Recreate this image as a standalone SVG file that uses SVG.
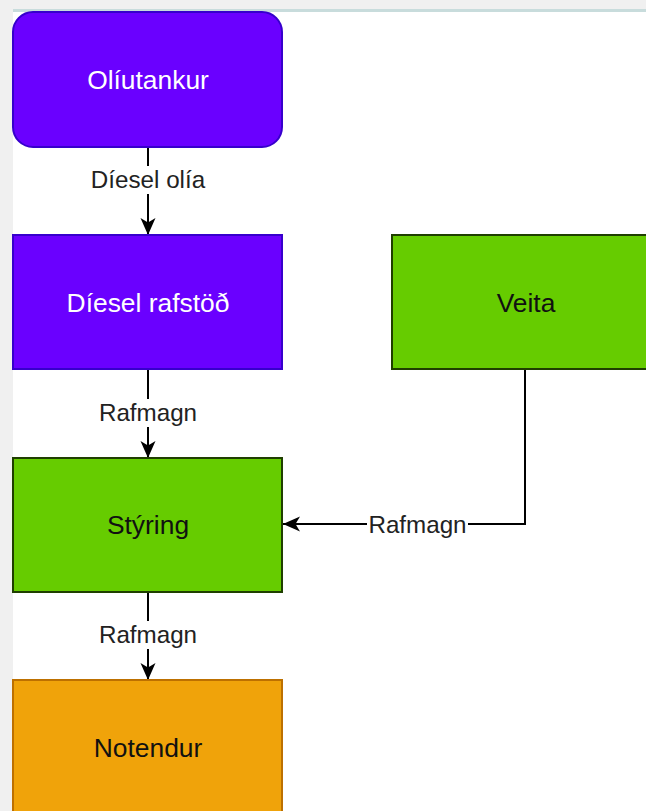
<svg xmlns="http://www.w3.org/2000/svg" width="646" height="811" viewBox="0 0 646 811">
<style>
.purple{fill:#6a00ff;stroke:#3700cc;stroke-width:2}
.green{fill:#66cc00;stroke:#1f3f00;stroke-width:2}
.orange{fill:#f0a30a;stroke:#bd7000;stroke-width:2}
.nt{font-family:"Liberation Sans",Arial,sans-serif;font-size:26.4px;text-anchor:middle}
.w{fill:#ffffff}
.d{fill:#111111}
.edge{fill:none;stroke:#000;stroke-width:2;marker-end:url(#arr)}
.lbl{font-family:"Liberation Sans",Arial,sans-serif;font-size:24.2px;text-anchor:middle;fill:#222}
.lbg{fill:#ffffff}
</style>
<defs>
<marker id="arr" markerUnits="userSpaceOnUse" markerWidth="18" markerHeight="18" viewBox="0 0 18 18" refX="17" refY="9" orient="auto">
<path d="M0,1.5 L17,9 L0,16.5 L4.5,9 Z" fill="#000"/>
</marker>
</defs>
<rect x="0" y="0" width="646" height="811" fill="#ffffff"/>
<rect x="0" y="0" width="646" height="9" fill="#f0f0f0"/>
<rect x="0" y="0" width="13" height="811" fill="#f0f0f0"/>
<rect x="13" y="9" width="633" height="3" fill="#c8dcdc"/>
<g id="connectors">
<path class="edge" d="M148,147 L148,235"/>
<path class="edge" d="M148,369 L148,458"/>
<path class="edge" d="M525,369 L525,524 L283,524"/>
<path class="edge" d="M148,592 L148,680"/>
<rect class="lbg" x="88" y="166" width="120" height="28"/>
<text class="lbl" x="148" y="188">Díesel olía</text>
<rect class="lbg" x="97" y="399" width="102" height="28"/>
<text class="lbl" x="148" y="421">Rafmagn</text>
<rect class="lbg" x="367" y="512" width="101" height="26"/>
<text class="lbl" x="417.5" y="533">Rafmagn</text>
<rect class="lbg" x="97" y="621" width="102" height="28"/>
<text class="lbl" x="148" y="643">Rafmagn</text>
</g>
<g id="oliutankur">
<rect class="purple" x="13" y="12" width="269" height="135" rx="20" ry="20"/>
<text class="nt w" x="148" y="89">Olíutankur</text>
</g>
<g id="diesel">
<rect class="purple" x="13" y="235" width="269" height="134"/>
<text class="nt w" x="148" y="311.5">Díesel rafstöð</text>
</g>
<g id="veita">
<rect class="green" x="392" y="235" width="269" height="134"/>
<text class="nt d" x="526" y="311.5">Veita</text>
</g>
<g id="styring">
<rect class="green" x="13" y="458" width="269" height="134"/>
<text class="nt d" x="148" y="534">Stýring</text>
</g>
<g id="notendur">
<rect class="orange" x="13" y="680" width="269" height="134"/>
<text class="nt d" x="148" y="756.5">Notendur</text>
</g>
</svg>
